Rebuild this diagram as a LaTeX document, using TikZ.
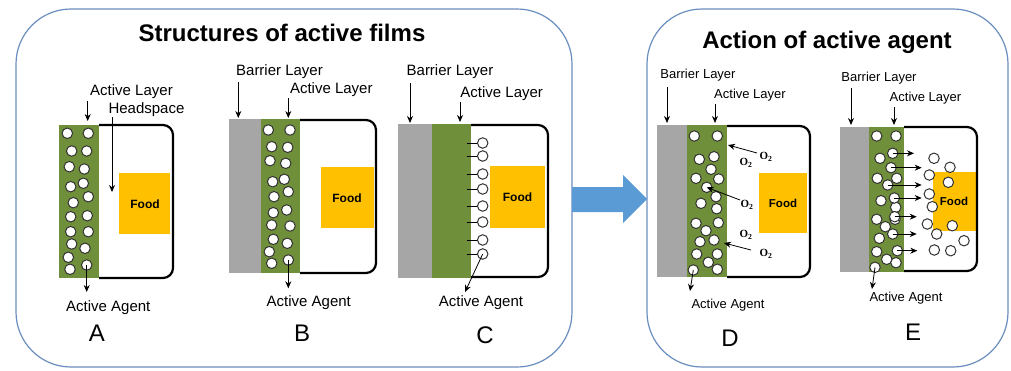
\documentclass[tikz,border=0pt]{standalone}
\usepackage{fontspec}
\setmainfont{Liberation Sans}
\newfontfamily\serifb{Liberation Serif}
\usetikzlibrary{arrows.meta}
\definecolor{frameblue}{HTML}{6A8EBF}
\definecolor{arrowblue}{HTML}{5B9BD5}
\definecolor{filmgreen}{HTML}{6F8F3A}
\definecolor{barriergray}{HTML}{A6A6A6}
\definecolor{foodyellow}{HTML}{FFC000}
\begin{document}
\begin{tikzpicture}[x=1pt,y=-1pt,
 frame/.style={draw=frameblue,line width=1.2pt,rounded corners=55pt},
 lbl/.style={font=\fontsize{15}{15}\selectfont,inner sep=0pt},
 slbl/.style={font=\fontsize{13}{13}\selectfont,inner sep=0pt},
 ttl/.style={font=\fontsize{24}{24}\selectfont\bfseries,inner sep=0pt},
 letter/.style={font=\fontsize{24}{24}\selectfont,inner sep=0pt},
 foodlbl/.style={font=\fontsize{12}{12}\selectfont\bfseries,inner sep=0pt},
 agent/.style={circle,draw=black!80,fill=white,line width=1pt,minimum size=10.5pt,inner sep=0pt},
 arr/.style={-{Stealth[length=7pt,width=6pt]},line width=0.8pt},
 container/.style={draw=black,line width=2.2pt,rounded corners=10pt},
 o2/.style={font=\serifb\fontsize{11}{11}\selectfont\bfseries,inner sep=0pt}]
\useasboundingbox (0,0) rectangle (1011,370);
\fill[white] (0,0) rectangle (1011,370);

% frames
\draw[frame] (16,9) rectangle (572,367);
\draw[frame] (647,9) rectangle (1008,367);
\fill[arrowblue] (572,187) -- (623,187) -- (623,175) -- (647,199) -- (623,223) -- (623,212) -- (572,212) -- cycle;

\node[ttl] (t1) at (282,33) {Structures of active films};
\node[ttl] (t2) at (827,42) {Action of active agent};

% ---------- Panel A
\fill[foodyellow] (119,173) rectangle (170,234);
\node[foodlbl] (foodA) at (145,204) {Food};
\draw[container] (99,125) -- (173,125) -- (173,278) -- (99,278);
\fill[filmgreen] (59,125) rectangle (99,278);
\foreach \x/\y [count=\i] in {67.3/133.3,88.3/133.3,71.7/151,86.7/151,69.3/166.7,84.3/169,70.7/186.7,83.3/183.3,88.3/196.7,73.3/202.7,70.7/216.7,87.3/215.7,70.7/231.7,88.3/231.7,71.7/244,85/248.3,68.3/257.3,70/269.3}
  \node[agent] (cA\i) at (\x,\y) {};
\node[agent] (agA) at (86.7,265) {};
\node[lbl] (alA) at (131.5,91.5) {Active Layer};
\coordinate (alAs) at (87.7,101); \coordinate (alAe) at (87.7,121);
\draw[arr] (alAs) -- (alAe);
\node[lbl] (hsA) at (146.5,110) {Headspace};
\coordinate (hsAs) at (112,117); \coordinate (hsAe) at (112,192);
\draw[arr] (hsAs) -- (hsAe);
\coordinate (agAe) at (86.7,292);
\draw[arr] (agA.center) -- (agAe);
\node[lbl] (aaA) at (108.3,308) {Active Agent};
\node[letter] (letA) at (97,333) {A};

% ---------- Panel B
\fill[foodyellow] (321,167) rectangle (374,228);
\node[foodlbl] (foodB) at (347,198) {Food};
\draw[container] (300,120) -- (376,120) -- (376,273) -- (300,273);
\fill[barriergray] (229,119) rectangle (261,273);
\fill[filmgreen] (261,119) rectangle (300,273);
\foreach \x/\y [count=\i] in {268.3/130,290/130,271.7/146.7,287.7/147.3,270/160.7,285.7/163.3,272.7/181.7,284.3/179.3,288.3/191.7,274/196.7,273.3/212.7,286.7/210,271.7/225,290/226,273.3/239.3,287.3/243.3,269.3/251.7,271.7/263.3}
  \node[agent] (cB\i) at (\x,\y) {};
\node[agent] (agB) at (288.3,260) {};
\node[lbl] (blB) at (279.5,72) {Barrier Layer};
\coordinate (blBs) at (238.3,82); \coordinate (blBe) at (238.3,118);
\draw[arr] (blBs) -- (blBe);
\node[lbl] (alB) at (331.3,89.3) {Active Layer};
\coordinate (alBs) at (288.3,98); \coordinate (alBe) at (288.3,118);
\draw[arr] (alBs) -- (alBe);
\coordinate (agBe) at (288.3,288.3);
\draw[arr] (agB.center) -- (agBe);
\node[lbl] (aaB) at (308.8,303) {Active Agent};
\node[letter] (letB) at (302,333) {B};

% ---------- Panel C
\fill[foodyellow] (490,166) rectangle (545,228);
\node[foodlbl] (foodC) at (517.5,197.5) {Food};
\draw[container] (471,125) -- (548,125) -- (548,277) -- (471,277);
\fill[barriergray] (398,124) rectangle (432,278);
\fill[filmgreen] (432,124) rectangle (471,278);
\foreach \y [count=\i] in {143,156,174,189,206,222,240}{
  \node[agent] (cC\i) at (482.7,\y) {};
  \coordinate (tC\i) at (466.7,\y);
  \draw[line width=0.7pt] (tC\i) -- (cC\i.west);
}
\node[agent] (agC) at (482.7,254) {};
\coordinate (tC8) at (466.7,254);
\draw[line width=0.7pt] (tC8) -- (agC.west);
\node[lbl] (blC) at (450,72) {Barrier Layer};
\coordinate (blCs) at (410,83); \coordinate (blCe) at (410,123);
\draw[arr] (blCs) -- (blCe);
\node[lbl] (alC) at (501.7,93.3) {Active Layer};
\coordinate (alCs) at (460,102); \coordinate (alCe) at (460,122);
\draw[arr] (alCs) -- (alCe);
\coordinate (agCe) at (465,292);
\draw[arr] (agC.center) -- (agCe);
\node[lbl] (aaC) at (481,303) {Active Agent};
\node[letter] (letC) at (485,335) {C};

% ---------- Panel D
\fill[foodyellow] (759,173) rectangle (807,233);
\node[foodlbl,font=\fontsize{11.5}{11.5}\selectfont\bfseries] (foodD) at (783,203) {Food};
\draw[container] (727,126) -- (810,126) -- (810,277) -- (727,277);
\fill[barriergray] (657,125) rectangle (687,277);
\fill[filmgreen] (687,125) rectangle (727,277);
\foreach \x/\y [count=\i] in {694.3/136,717.3/136,699.3/159.3,714/156.7,711/169.3,696/178.3,718.7/179,701/203.3,716/196.7,716.7/208.7,696/223.3,718.3/222.7,706/230.7,700/241.7,714/240,696.7/254,717.3/254,708.3/262.3,717.3/269.3}
  \node[agent] (cD\i) at (\x,\y) {};
\node[agent] (tgD) at (706.7,187.3) {};
\node[agent] (agD) at (693.3,270) {};
\node[o2] (o2a) at (766,157) {O\textsubscript{2}};
\node[o2] (o2b) at (746,163) {O\textsubscript{2}};
\node[o2] (o2c) at (747,205) {O\textsubscript{2}};
\node[o2] (o2d) at (746,235) {O\textsubscript{2}};
\node[o2] (o2e) at (766,254) {O\textsubscript{2}};
\coordinate (d1s) at (757,153); \coordinate (d1e) at (728,145);
\draw[arr] (d1s) -- (d1e);
\coordinate (d2s) at (740,200);
\draw[arr] (d2s) -- (tgD.center);
\coordinate (d3s) at (751,250); \coordinate (d3e) at (724,243);
\draw[arr] (d3s) -- (d3e);
\node[slbl] (blD) at (698,75) {Barrier Layer};
\coordinate (blDs) at (667,87); \coordinate (blDe) at (667,123);
\draw[arr] (blDs) -- (blDe);
\node[slbl] (alD) at (750,95) {Active Layer};
\coordinate (alDs) at (715,104); \coordinate (alDe) at (715,123);
\draw[arr] (alDs) -- (alDe);
\coordinate (agDe) at (690,291);
\draw[arr] (agD.center) -- (agDe);
\node[slbl] (aaD) at (728,305) {Active Agent};
\node[letter] (letD) at (730,338) {D};

% ---------- Panel E
\fill[foodyellow] (933,172) rectangle (976,231);
\node[foodlbl,font=\fontsize{11.5}{11.5}\selectfont\bfseries] (foodE) at (954,201) {Food};
\draw[container] (904,127) -- (977,127) -- (977,271) -- (904,271);
\fill[barriergray] (840,127) rectangle (869,272);
\fill[filmgreen] (869,127) rectangle (904,272);
\foreach \x/\y [count=\i] in {876.7/136,896/136,880/158.3,877.3/178.3,896.7/178.3,881/200.7,895.7/207.3,876.7/219.3,895/219.3,885.3/226.7,879.3/238.3,876.7/251.7,886.7/259.3,896/262.7}
  \node[agent] (cE\i) at (\x,\y) {};
\foreach \x/\y/\e [count=\i] in {892.7/153.3/914,891/167.7/921.7,887.7/185/921.7,894.3/198/921.7,894.7/216.7/916.7,892.7/234/916.7,897.3/250.7/917.3}{
  \node[agent] (sE\i) at (\x,\y) {};
  \coordinate (eE\i) at (\e,\y);
  \draw[arr] (sE\i.center) -- (eE\i);
}
\foreach \x/\y [count=\i] in {934/158.3,950/167.3,929.3/175,948.3/182.3,929.3/194,932.3/206.7,927.3/224,952.3/225.7,936.7/234,964/240.7,934.3/250,950.7/250.7}
  \node[agent] (rE\i) at (\x,\y) {};
\node[agent] (agE) at (875,267.3) {};
\node[slbl] (blE) at (879,78) {Barrier Layer};
\coordinate (blEs) at (851,88); \coordinate (blEe) at (851,125);
\draw[arr] (blEs) -- (blEe);
\node[slbl] (alE) at (925.5,98) {Active Layer};
\coordinate (alEs) at (894,107); \coordinate (alEe) at (894,125);
\draw[arr] (alEs) -- (alEe);
\coordinate (agEe) at (872,289);
\draw[arr] (agE.center) -- (agEe);
\node[slbl] (aaE) at (906,298) {Active Agent};
\node[letter] (letE) at (913,332) {E};
\end{tikzpicture}
\end{document}
